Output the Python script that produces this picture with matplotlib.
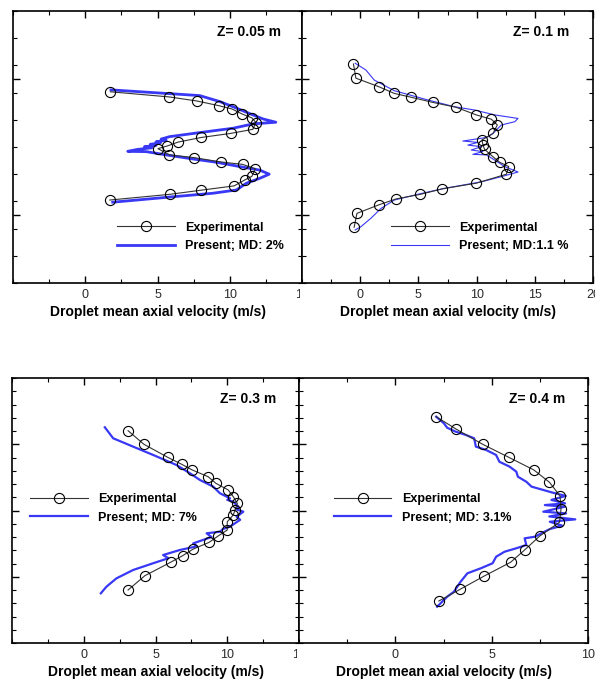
import matplotlib
matplotlib.use("Agg")
import matplotlib.pyplot as plt
from matplotlib.ticker import FixedLocator, MultipleLocator
from matplotlib.patches import Rectangle

plt.rcParams['font.family'] = ['Liberation Sans', 'DejaVu Sans']

# ---------------- data ----------------
z_labels = ["Z= 0.05 m", "Z= 0.1 m", "Z= 0.3 m", "Z= 0.4 m"]
md_labels = ["Present; MD: 2%", "Present; MD:1.1 %", "Present; MD: 7%", "Present; MD: 3.1%"]

exp1_v = [1.74, 5.83, 7.74, 9.24, 10.14, 10.87, 11.53, 11.81, 11.60, 10.07, 8.02, 6.42, 5.69, 5.03,
          5.83, 7.53, 9.38, 10.90, 11.77, 11.53, 11.08, 10.30, 7.99, 5.85, 1.70]
exp1_r = [7.03, 6.84, 6.69, 6.52, 6.40, 6.21, 6.07, 5.90, 5.65, 5.50, 5.35, 5.18, 5.04, 4.94,
          4.71, 4.61, 4.45, 4.36, 4.20, 3.92, 3.80, 3.57, 3.41, 3.26, 3.05]
sim1_v = [1.78, 7.92, 9.31, 10.23, 11.51, 12.31, 13.19, 11.62, 10.23, 7.92, 5.83, 5.25, 5.6, 4.9, 5.2,
          4.5, 4.9, 4.1, 4.6, 3.6, 2.94, 4.21, 5.60, 7.45, 9.07, 10.69, 12.08, 12.73, 12.08, 11.16,
          10.46, 8.84, 6.06, 1.90]
sim1_r = [7.10, 6.89, 6.67, 6.48, 6.20, 6.03, 5.91, 5.85, 5.69, 5.53, 5.38, 5.29, 5.25, 5.19, 5.15,
          5.10, 5.06, 5.01, 4.97, 4.91, 4.84, 4.83, 4.71, 4.56, 4.44, 4.28, 4.15, 4.00, 3.85, 3.67,
          3.42, 3.30, 3.17, 2.97]

exp2_v = [-0.58, -0.37, 1.58, 2.93, 4.37, 6.23, 8.25, 9.97, 11.27, 11.78, 11.41, 10.46, 10.55, 10.69,
          11.41, 11.98, 12.76, 12.56, 9.97, 7.04, 5.17, 3.08, 1.58, -0.28, -0.52]
exp2_r = [8.05, 7.53, 7.22, 6.97, 6.83, 6.64, 6.46, 6.18, 6.02, 5.81, 5.50, 5.26, 5.07, 4.91,
          4.64, 4.44, 4.28, 4.00, 3.67, 3.46, 3.26, 3.09, 2.87, 2.56, 2.05]
sim2_v = [-0.43, 0.49, 1.21, 2.93, 5.80, 8.10, 9.83, 11.55, 13.56, 13.28, 12.13, 11.41, 10.98, 10.69,
          8.82, 10.11, 9.25, 10.41, 9.54, 10.54, 9.68, 10.84, 11.55, 12.41, 13.56, 12.13, 10.41, 7.24,
          4.94, 2.93, 1.78, 0.92, 0.06, -0.43]
sim2_r = [8.08, 7.83, 7.46, 7.07, 6.73, 6.48, 6.36, 6.18, 6.05, 5.93, 5.81, 5.50, 5.38, 5.34,
          5.22, 5.17, 5.07, 5.01, 4.89, 4.83, 4.73, 4.71, 4.52, 4.28, 4.08, 3.91, 3.72, 3.48,
          3.26, 3.05, 2.74, 2.38, 2.07, 1.95]

exp3_v = [3.09, 4.19, 5.84, 6.82, 7.56, 8.67, 9.21, 10.07, 10.42, 10.70, 10.54, 10.42, 10.00, 10.00,
          9.37, 8.74, 7.63, 6.89, 6.05, 4.26, 3.09]
exp3_r = [16.02, 15.00, 14.02, 13.49, 13.06, 12.55, 12.05, 11.55, 11.04, 10.54, 10.04, 9.66, 9.15, 8.53,
          8.08, 7.60, 7.09, 6.59, 6.09, 5.08, 4.00]
sim3_v = [1.47, 2.05, 3.44, 4.84, 6.47, 7.40, 8.10, 9.02, 9.49, 10.19, 10.0, 10.42, 10.77, 10.6, 11.12,
          10.65, 10.9, 10.19, 9.7, 9.49, 8.56, 8.9, 7.63, 7.9, 6.70, 5.53, 5.9, 4.84, 3.44, 2.28, 1.58, 1.19]
sim3_r = [16.28, 15.45, 14.82, 14.19, 13.43, 12.81, 12.30, 11.80, 11.30, 10.92, 10.80, 10.66, 10.29, 10.10,
          9.91, 9.53, 9.30, 8.78, 8.60, 8.40, 8.28, 8.00, 7.52, 7.30, 7.02, 6.64, 6.40, 6.02, 5.51, 4.88,
          4.25, 3.75]

exp4_v = [2.12, 3.17, 4.53, 5.88, 7.19, 8.00, 8.55, 8.60, 8.52, 7.50, 6.71, 5.98, 4.62, 3.36, 2.26]
exp4_r = [17.08, 16.13, 15.00, 14.02, 13.06, 12.13, 11.09, 10.11, 9.11, 8.08, 7.02, 6.09, 5.06, 4.05, 3.17]
sim4_v = [2.12, 2.52, 2.69, 3.13, 3.66, 4.09, 4.18, 4.71, 5.23, 5.40, 5.93, 6.28, 6.36, 6.80, 7.07, 7.68,
          8.11, 8.85, 8.1, 8.81, 7.76, 8.81, 7.68, 8.86, 7.99, 9.34, 8.02, 8.66, 8.02, 7.58, 7.24, 6.71,
          6.80, 6.28, 5.67, 5.23, 5.05, 4.44, 3.74, 3.39, 3.04, 2.69, 2.17]
sim4_r = [17.08, 16.58, 16.25, 15.95, 15.70, 15.45, 14.82, 14.57, 14.19, 13.68, 13.31, 12.93, 12.55, 12.17,
          11.80, 11.55, 11.37, 11.1, 10.8, 10.54, 10.41, 10.29, 9.91, 9.78, 9.55, 9.33, 9.15, 8.86, 8.60,
          8.28, 8.02, 7.90, 7.40, 7.15, 6.89, 6.51, 6.02, 5.64, 5.26, 4.63, 3.87, 3.49, 2.74]

xticks_1 = [0, 5, 10, 15]
xticks_2 = [0, 5, 10, 15, 20]
xticks_3 = [0, 5, 10, 15]
xticks_4 = [0, 5, 10]

# ---------------- figure ----------------
W, H = 595, 679
fig = plt.figure(figsize=(W / 100, H / 100), dpi=100)


def px_axes(l, r, t, b):
    return fig.add_axes([l / W, 1 - b / H, (r - l) / W, (b - t) / H])


BLUE = '#3838f5'
panels = [
    dict(box=(13, 302, 11, 283), xlim=(-5, 15), xt=xticks_1, ylim=(0, 10), ymaj=[2.5, 7.5], ymin=1,
         ev=exp1_v, er=exp1_r, sv=sim1_v, sr=sim1_r, lw=2.0, leg=(0.36, 0.17), zx=0.927, zy=0.923),
    dict(box=(302, 593, 11, 283), xlim=(-5, 20), xt=xticks_2, ylim=(0, 10), ymaj=[2.5, 7.5], ymin=1,
         ev=exp2_v, er=exp2_r, sv=sim2_v, sr=sim2_r, lw=0.8, leg=(0.306, 0.17), zx=0.918, zy=0.923),
    dict(box=(12, 299, 378, 643), xlim=(-5, 15), xt=xticks_3, ylim=(0, 20), ymaj=[5, 10, 15], ymin=1,
         ev=exp3_v, er=exp3_r, sv=sim3_v, sr=sim3_r, lw=1.6, leg=(0.063, 0.508), zx=0.92, zy=0.921),
    dict(box=(299, 588, 378, 643), xlim=(-5, 10), xt=xticks_4, ylim=(0, 20), ymaj=[5, 10, 15], ymin=1,
         ev=exp4_v, er=exp4_r, sv=sim4_v, sr=sim4_r, lw=1.6, leg=(0.121, 0.508), zx=0.92, zy=0.921),
]

for i, p in enumerate(panels):
    ax = px_axes(*p['box'])
    ax.plot(p['sv'], p['sr'], color=BLUE, lw=p['lw'], label=md_labels[i], zorder=2)
    ax.plot(p['ev'], p['er'], color='#333333', lw=0.8, marker='o', ms=7.3, mfc='none',
            mec='black', mew=0.8, label='Experimental', zorder=3)
    ax.set_xlim(*p['xlim'])
    ax.set_ylim(*p['ylim'])
    ax.xaxis.set_major_locator(FixedLocator(p['xt']))
    ax.xaxis.set_minor_locator(MultipleLocator(2.5))
    ax.yaxis.set_major_locator(FixedLocator(p['ymaj']))
    ax.yaxis.set_minor_locator(MultipleLocator(p['ymin']))
    ax.set_yticklabels([])
    ax.tick_params(which='both', direction='in', top=True, right=True, color='black')
    ax.tick_params(which='major', length=5, width=1.0, labelsize=9, pad=4.5, labelcolor='#2a2a2a')
    ax.tick_params(which='minor', length=3, width=0.8)
    for s in ax.spines.values():
        s.set_linewidth(1.2)
    ax.set_xlabel('Droplet mean axial velocity (m/s)', fontsize=10, fontweight='bold', labelpad=3)
    ax.text(p['zx'], p['zy'], z_labels[i], transform=ax.transAxes, ha='right', va='center',
            fontsize=10, fontweight='bold')
    h, l = ax.get_legend_handles_labels()
    ax.legend(h[::-1], l[::-1], loc='center left', bbox_to_anchor=p['leg'], frameon=False,
              borderaxespad=0, borderpad=0, handlelength=4.6, handletextpad=0.85, labelspacing=0.5,
              numpoints=1, prop={'size': 9, 'weight': 'bold'})

# white masks emulating the cropped composite (labels cut at panel joins)
for (x0, y0, w, h) in [(300, 286, 14, 16), (297, 646, 16, 16)]:
    fig.patches.append(Rectangle((x0 / W, 1 - (y0 + h) / H), w / W, h / H, transform=fig.transFigure,
                                 facecolor='white', edgecolor='none', zorder=10))

fig.savefig('out.png', dpi=100)
